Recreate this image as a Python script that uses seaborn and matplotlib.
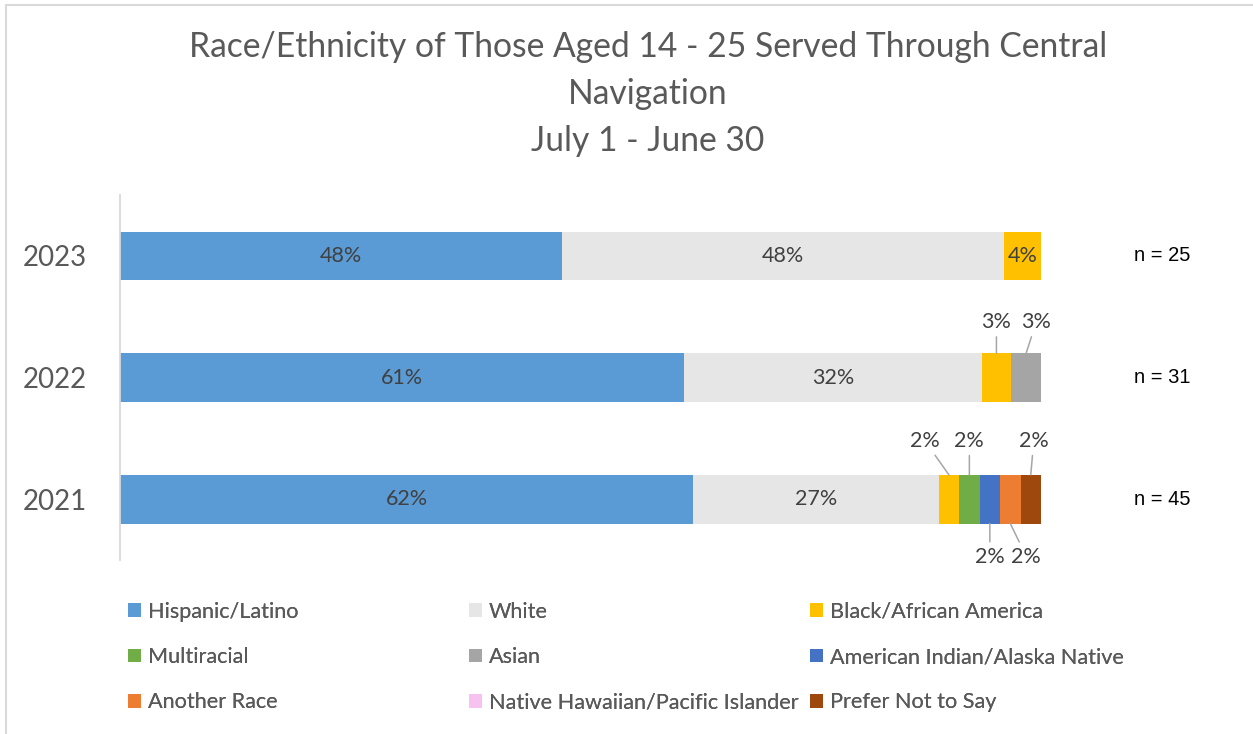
import numpy as np
import pandas as pd
import matplotlib
matplotlib.use("Agg")
import matplotlib.pyplot as plt
import matplotlib.transforms as mtransforms
from matplotlib.lines import Line2D
from matplotlib.patches import Patch
import seaborn as sns

# ---- data -------------------------------------------------------------
years = ["2023", "2022", "2021"]
n_totals = [25, 31, 45]

categories = [
    "Hispanic/Latino",
    "White",
    "Black/African America",
    "Multiracial",
    "Asian",
    "American Indian/Alaska Native",
    "Another Race",
    "Native Hawaiian/Pacific Islander",
    "Prefer Not to Say",
]

# people served per year (2023, 2022, 2021)
hispanic = [12, 19, 28]
white = [12, 10, 12]
black = [1, 1, 1]
multiracial = [0, 0, 1]
asian = [0, 1, 0]
american_indian = [0, 0, 1]
another_race = [0, 0, 1]
native_hawaiian = [0, 0, 0]
prefer_not = [0, 0, 1]

counts = [hispanic, white, black, multiracial, asian,
          american_indian, another_race, native_hawaiian, prefer_not]

colors = ["#5B9BD5", "#E7E6E6", "#FFC000", "#70AD47", "#A5A5A5",
          "#4472C4", "#ED7D31", "#F7C2F0", "#9E480E"]

# ---- style --------------------------------------------------------------
sns.set_theme(style="white")
plt.rcParams["font.family"] = ["Lato", "DejaVu Sans"]

W, H = 1253, 734
fig = plt.figure(figsize=(W / 100, H / 100), dpi=100)
fig.patch.set_facecolor("white")
ax = fig.add_axes([120 / W, 1 - 560 / H, 921 / W, 365 / H])

totals = np.array(n_totals, dtype=float)
pct = [np.array(c, dtype=float) / totals * 100 for c in counts]

left = np.zeros(len(years))
segments = []  # (category index, year index, left, width)
for ci, (cat, vals) in enumerate(zip(categories, pct)):
    df = pd.DataFrame({"year": years, "pct": vals})
    sns.barplot(data=df, x="pct", y="year", order=years, orient="y",
                color=colors[ci], saturation=1, width=0.4, errorbar=None,
                left=left.copy(), linewidth=0, edgecolor="none", ax=ax)
    for yi in range(len(years)):
        segments.append((ci, yi, left[yi], vals[yi]))
    left = left + vals

ax.set_xlim(0, 100)
ax.set_ylim(2.5, -0.5)
ax.set_xticks([])
ax.set_xlabel("")
ax.set_ylabel("")
for side in ["top", "right", "bottom"]:
    ax.spines[side].set_visible(False)
ax.spines["left"].set_color("#D9D9D9")
ax.spines["left"].set_linewidth(1.3)
ax.tick_params(axis="y", length=0, pad=24, labelsize=20, labelcolor="#595959")

# ---- data labels ----------------------------------------------------------
label_color = "#404040"
leader_color = "#A6A6A6"
label_size = 15.5
# small segments get their label outside the bar: (dx, dy) in pixels
outside = {
    ("2022", "Black/African America"): (0, 31),
    ("2022", "Asian"): (10, 31),
    ("2021", "Black/African America"): (-24, 34),
    ("2021", "Multiracial"): (0, 34),
    ("2021", "Prefer Not to Say"): (3, 34),
    ("2021", "American Indian/Alaska Native"): (0, -33),
    ("2021", "Another Race"): (16, -33),
}
for ci, yi, x0, w in segments:
    if w <= 0:
        continue
    cx = x0 + w / 2
    text = f"{round(w):.0f}%"
    key = (years[yi], categories[ci])
    if key in outside:
        dx, dy = outside[key]
        edge = yi - 0.2 if dy > 0 else yi + 0.2
        ax.annotate(text, xy=(cx, edge), xytext=(dx, dy),
                    textcoords="offset pixels", ha="center", va="center",
                    fontsize=label_size, color=label_color, annotation_clip=False,
                    arrowprops=dict(arrowstyle="-", color=leader_color,
                                    lw=1.1, shrinkA=1, shrinkB=0))
    else:
        ax.text(cx, yi, text, ha="center", va="center",
                fontsize=label_size, color=label_color)

# ---- sample sizes ---------------------------------------------------------
trans = mtransforms.blended_transform_factory(ax.transAxes, ax.transData)
for yi, n in enumerate(n_totals):
    ax.text((1162 - 120) / 921, yi, f"n = {n}", transform=trans,
            ha="center", va="center", fontsize=14.5, color="black",
            family=["Liberation Sans", "DejaVu Sans"])

# ---- title ----------------------------------------------------------------
fig.text(648 / W, 1 - 94 / H,
         "Race/Ethnicity of Those Aged 14 - 25 Served Through Central\nNavigation\nJuly 1 - June 30",
         ha="center", va="center", fontsize=24.2, color="#595959",
         linespacing=1.57)

# ---- legend (three columns) -------------------------------------------------
handles = [Patch(facecolor=c, edgecolor="none") for c in colors]
col_x = [128, 469, 810]
for k in range(3):
    idx = [k + 3 * r for r in range(3)]
    leg = fig.legend([handles[i] for i in idx], [categories[i] for i in idx],
                     loc="upper left", bbox_to_anchor=(col_x[k] / W, 1 - 602 / H),
                     frameon=False, fontsize=15.6, handlelength=0.6,
                     handleheight=0.6, handletextpad=0.32, labelspacing=1.16,
                     borderpad=0, borderaxespad=0)
    for t in leg.get_texts():
        t.set_color("#595959")
    fig.add_artist(leg)

# ---- chart border ------------------------------------------------------------
fig.add_artist(Line2D([6 / W, 1], [1 - 5 / H, 1 - 5 / H], transform=fig.transFigure,
                      color="#D9D9D9", lw=1.5))
fig.add_artist(Line2D([6 / W, 6 / W], [0, 1 - 5 / H], transform=fig.transFigure,
                      color="#D9D9D9", lw=1.5))

fig.savefig("out.png", dpi=100, facecolor="white")
